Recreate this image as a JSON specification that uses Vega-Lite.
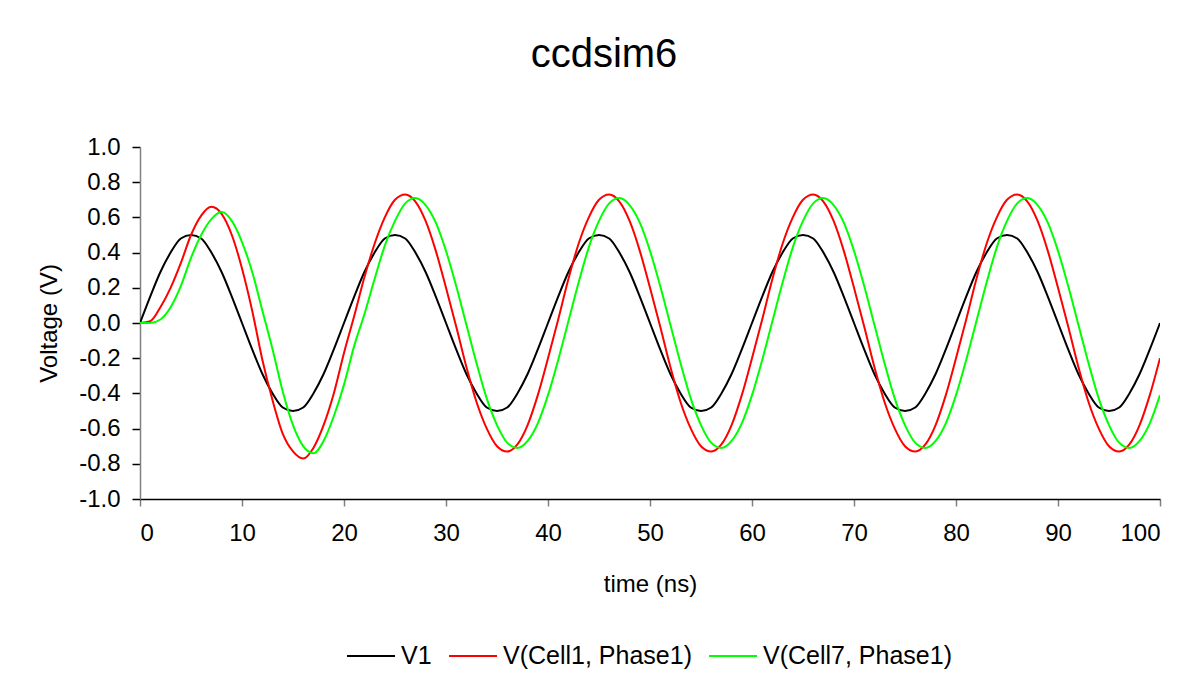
{
"$schema": "https://vega.github.io/schema/vega-lite/v6.json",
"autosize": "none",
"width": 1020,
"height": 352,
"padding": {"left": 140, "top": 147, "right": 43, "bottom": 183},
"background": "#ffffff",
"title": {"text": "ccdsim6", "fontSize": 40, "fontWeight": "normal", "font": "Liberation Sans", "color": "#000000", "anchor": "middle", "dx": -46, "offset": 60},
"data": {"values": [
{"t":0,"s":"V1","v":0},{"t":1,"s":"V1","v":0.15},{"t":2,"s":"V1","v":0.29},{"t":3,"s":"V1","v":0.40},{"t":4,"s":"V1","v":0.48},{"t":5,"s":"V1","v":0.50},{"t":6,"s":"V1","v":0.48},{"t":7,"s":"V1","v":0.40},{"t":8,"s":"V1","v":0.29},{"t":9,"s":"V1","v":0.15},
{"t":10,"s":"V1","v":0},{"t":11,"s":"V1","v":-0.15},{"t":12,"s":"V1","v":-0.29},{"t":13,"s":"V1","v":-0.40},{"t":14,"s":"V1","v":-0.48},{"t":15,"s":"V1","v":-0.50},{"t":16,"s":"V1","v":-0.48},{"t":17,"s":"V1","v":-0.40},{"t":18,"s":"V1","v":-0.29},{"t":19,"s":"V1","v":-0.15},
{"t":20,"s":"V1","v":0},{"t":21,"s":"V1","v":0.15},{"t":22,"s":"V1","v":0.29},{"t":23,"s":"V1","v":0.40},{"t":24,"s":"V1","v":0.48},{"t":25,"s":"V1","v":0.50},{"t":26,"s":"V1","v":0.48},{"t":27,"s":"V1","v":0.40},{"t":28,"s":"V1","v":0.29},{"t":29,"s":"V1","v":0.15},
{"t":30,"s":"V1","v":0},{"t":31,"s":"V1","v":-0.15},{"t":32,"s":"V1","v":-0.29},{"t":33,"s":"V1","v":-0.40},{"t":34,"s":"V1","v":-0.48},{"t":35,"s":"V1","v":-0.50},{"t":36,"s":"V1","v":-0.48},{"t":37,"s":"V1","v":-0.40},{"t":38,"s":"V1","v":-0.29},{"t":39,"s":"V1","v":-0.15},
{"t":40,"s":"V1","v":0},{"t":41,"s":"V1","v":0.15},{"t":42,"s":"V1","v":0.29},{"t":43,"s":"V1","v":0.40},{"t":44,"s":"V1","v":0.48},{"t":45,"s":"V1","v":0.50},{"t":46,"s":"V1","v":0.48},{"t":47,"s":"V1","v":0.40},{"t":48,"s":"V1","v":0.29},{"t":49,"s":"V1","v":0.15},
{"t":50,"s":"V1","v":0},{"t":51,"s":"V1","v":-0.15},{"t":52,"s":"V1","v":-0.29},{"t":53,"s":"V1","v":-0.40},{"t":54,"s":"V1","v":-0.48},{"t":55,"s":"V1","v":-0.50},{"t":56,"s":"V1","v":-0.48},{"t":57,"s":"V1","v":-0.40},{"t":58,"s":"V1","v":-0.29},{"t":59,"s":"V1","v":-0.15},
{"t":60,"s":"V1","v":0},{"t":61,"s":"V1","v":0.15},{"t":62,"s":"V1","v":0.29},{"t":63,"s":"V1","v":0.40},{"t":64,"s":"V1","v":0.48},{"t":65,"s":"V1","v":0.50},{"t":66,"s":"V1","v":0.48},{"t":67,"s":"V1","v":0.40},{"t":68,"s":"V1","v":0.29},{"t":69,"s":"V1","v":0.15},
{"t":70,"s":"V1","v":0},{"t":71,"s":"V1","v":-0.15},{"t":72,"s":"V1","v":-0.29},{"t":73,"s":"V1","v":-0.40},{"t":74,"s":"V1","v":-0.48},{"t":75,"s":"V1","v":-0.50},{"t":76,"s":"V1","v":-0.48},{"t":77,"s":"V1","v":-0.40},{"t":78,"s":"V1","v":-0.29},{"t":79,"s":"V1","v":-0.15},
{"t":80,"s":"V1","v":0},{"t":81,"s":"V1","v":0.15},{"t":82,"s":"V1","v":0.29},{"t":83,"s":"V1","v":0.40},{"t":84,"s":"V1","v":0.48},{"t":85,"s":"V1","v":0.50},{"t":86,"s":"V1","v":0.48},{"t":87,"s":"V1","v":0.40},{"t":88,"s":"V1","v":0.29},{"t":89,"s":"V1","v":0.15},
{"t":90,"s":"V1","v":0},{"t":91,"s":"V1","v":-0.15},{"t":92,"s":"V1","v":-0.29},{"t":93,"s":"V1","v":-0.40},{"t":94,"s":"V1","v":-0.48},{"t":95,"s":"V1","v":-0.50},{"t":96,"s":"V1","v":-0.48},{"t":97,"s":"V1","v":-0.40},{"t":98,"s":"V1","v":-0.29},{"t":99,"s":"V1","v":-0.15},
{"t":100,"s":"V1","v":0},
{"t":0,"s":"V(Cell1, Phase1)","v":0},{"t":1,"s":"V(Cell1, Phase1)","v":0.01},{"t":2,"s":"V(Cell1, Phase1)","v":0.09},{"t":3,"s":"V(Cell1, Phase1)","v":0.20},{"t":4,"s":"V(Cell1, Phase1)","v":0.34},{"t":5,"s":"V(Cell1, Phase1)","v":0.50},{"t":6,"s":"V(Cell1, Phase1)","v":0.61},{"t":7,"s":"V(Cell1, Phase1)","v":0.66},{"t":8,"s":"V(Cell1, Phase1)","v":0.62},{"t":9,"s":"V(Cell1, Phase1)","v":0.50},
{"t":10,"s":"V(Cell1, Phase1)","v":0.31},{"t":11,"s":"V(Cell1, Phase1)","v":0.07},{"t":12,"s":"V(Cell1, Phase1)","v":-0.21},{"t":13,"s":"V(Cell1, Phase1)","v":-0.44},{"t":14,"s":"V(Cell1, Phase1)","v":-0.63},{"t":15,"s":"V(Cell1, Phase1)","v":-0.73},{"t":16,"s":"V(Cell1, Phase1)","v":-0.77},{"t":17,"s":"V(Cell1, Phase1)","v":-0.71},{"t":18,"s":"V(Cell1, Phase1)","v":-0.58},{"t":19,"s":"V(Cell1, Phase1)","v":-0.40},
{"t":20,"s":"V(Cell1, Phase1)","v":-0.17},{"t":21,"s":"V(Cell1, Phase1)","v":0.04},{"t":22,"s":"V(Cell1, Phase1)","v":0.26},{"t":23,"s":"V(Cell1, Phase1)","v":0.45},{"t":24,"s":"V(Cell1, Phase1)","v":0.60},{"t":25,"s":"V(Cell1, Phase1)","v":0.70},{"t":26,"s":"V(Cell1, Phase1)","v":0.73},{"t":27,"s":"V(Cell1, Phase1)","v":0.69},{"t":28,"s":"V(Cell1, Phase1)","v":0.58},{"t":29,"s":"V(Cell1, Phase1)","v":0.41},
{"t":30,"s":"V(Cell1, Phase1)","v":0.20},{"t":31,"s":"V(Cell1, Phase1)","v":-0.02},{"t":32,"s":"V(Cell1, Phase1)","v":-0.25},{"t":33,"s":"V(Cell1, Phase1)","v":-0.45},{"t":34,"s":"V(Cell1, Phase1)","v":-0.60},{"t":35,"s":"V(Cell1, Phase1)","v":-0.70},{"t":36,"s":"V(Cell1, Phase1)","v":-0.73},{"t":37,"s":"V(Cell1, Phase1)","v":-0.69},{"t":38,"s":"V(Cell1, Phase1)","v":-0.58},{"t":39,"s":"V(Cell1, Phase1)","v":-0.41},
{"t":40,"s":"V(Cell1, Phase1)","v":-0.20},{"t":41,"s":"V(Cell1, Phase1)","v":0.02},{"t":42,"s":"V(Cell1, Phase1)","v":0.25},{"t":43,"s":"V(Cell1, Phase1)","v":0.45},{"t":44,"s":"V(Cell1, Phase1)","v":0.60},{"t":45,"s":"V(Cell1, Phase1)","v":0.70},{"t":46,"s":"V(Cell1, Phase1)","v":0.73},{"t":47,"s":"V(Cell1, Phase1)","v":0.69},{"t":48,"s":"V(Cell1, Phase1)","v":0.58},{"t":49,"s":"V(Cell1, Phase1)","v":0.41},
{"t":50,"s":"V(Cell1, Phase1)","v":0.20},{"t":51,"s":"V(Cell1, Phase1)","v":-0.02},{"t":52,"s":"V(Cell1, Phase1)","v":-0.25},{"t":53,"s":"V(Cell1, Phase1)","v":-0.45},{"t":54,"s":"V(Cell1, Phase1)","v":-0.60},{"t":55,"s":"V(Cell1, Phase1)","v":-0.70},{"t":56,"s":"V(Cell1, Phase1)","v":-0.73},{"t":57,"s":"V(Cell1, Phase1)","v":-0.69},{"t":58,"s":"V(Cell1, Phase1)","v":-0.58},{"t":59,"s":"V(Cell1, Phase1)","v":-0.41},
{"t":60,"s":"V(Cell1, Phase1)","v":-0.20},{"t":61,"s":"V(Cell1, Phase1)","v":0.02},{"t":62,"s":"V(Cell1, Phase1)","v":0.25},{"t":63,"s":"V(Cell1, Phase1)","v":0.45},{"t":64,"s":"V(Cell1, Phase1)","v":0.60},{"t":65,"s":"V(Cell1, Phase1)","v":0.70},{"t":66,"s":"V(Cell1, Phase1)","v":0.73},{"t":67,"s":"V(Cell1, Phase1)","v":0.69},{"t":68,"s":"V(Cell1, Phase1)","v":0.58},{"t":69,"s":"V(Cell1, Phase1)","v":0.41},
{"t":70,"s":"V(Cell1, Phase1)","v":0.20},{"t":71,"s":"V(Cell1, Phase1)","v":-0.02},{"t":72,"s":"V(Cell1, Phase1)","v":-0.25},{"t":73,"s":"V(Cell1, Phase1)","v":-0.45},{"t":74,"s":"V(Cell1, Phase1)","v":-0.60},{"t":75,"s":"V(Cell1, Phase1)","v":-0.70},{"t":76,"s":"V(Cell1, Phase1)","v":-0.73},{"t":77,"s":"V(Cell1, Phase1)","v":-0.69},{"t":78,"s":"V(Cell1, Phase1)","v":-0.58},{"t":79,"s":"V(Cell1, Phase1)","v":-0.41},
{"t":80,"s":"V(Cell1, Phase1)","v":-0.20},{"t":81,"s":"V(Cell1, Phase1)","v":0.02},{"t":82,"s":"V(Cell1, Phase1)","v":0.25},{"t":83,"s":"V(Cell1, Phase1)","v":0.45},{"t":84,"s":"V(Cell1, Phase1)","v":0.60},{"t":85,"s":"V(Cell1, Phase1)","v":0.70},{"t":86,"s":"V(Cell1, Phase1)","v":0.73},{"t":87,"s":"V(Cell1, Phase1)","v":0.69},{"t":88,"s":"V(Cell1, Phase1)","v":0.58},{"t":89,"s":"V(Cell1, Phase1)","v":0.41},
{"t":90,"s":"V(Cell1, Phase1)","v":0.20},{"t":91,"s":"V(Cell1, Phase1)","v":-0.02},{"t":92,"s":"V(Cell1, Phase1)","v":-0.25},{"t":93,"s":"V(Cell1, Phase1)","v":-0.45},{"t":94,"s":"V(Cell1, Phase1)","v":-0.60},{"t":95,"s":"V(Cell1, Phase1)","v":-0.70},{"t":96,"s":"V(Cell1, Phase1)","v":-0.73},{"t":97,"s":"V(Cell1, Phase1)","v":-0.69},{"t":98,"s":"V(Cell1, Phase1)","v":-0.58},{"t":99,"s":"V(Cell1, Phase1)","v":-0.41},
{"t":100,"s":"V(Cell1, Phase1)","v":-0.20},
{"t":0,"s":"V(Cell7, Phase1)","v":0},{"t":1,"s":"V(Cell7, Phase1)","v":0.00},{"t":2,"s":"V(Cell7, Phase1)","v":0.02},{"t":3,"s":"V(Cell7, Phase1)","v":0.09},{"t":4,"s":"V(Cell7, Phase1)","v":0.21},{"t":5,"s":"V(Cell7, Phase1)","v":0.37},{"t":6,"s":"V(Cell7, Phase1)","v":0.50},{"t":7,"s":"V(Cell7, Phase1)","v":0.59},{"t":8,"s":"V(Cell7, Phase1)","v":0.63},{"t":9,"s":"V(Cell7, Phase1)","v":0.58},
{"t":10,"s":"V(Cell7, Phase1)","v":0.46},{"t":11,"s":"V(Cell7, Phase1)","v":0.29},{"t":12,"s":"V(Cell7, Phase1)","v":0.07},{"t":13,"s":"V(Cell7, Phase1)","v":-0.15},{"t":14,"s":"V(Cell7, Phase1)","v":-0.39},{"t":15,"s":"V(Cell7, Phase1)","v":-0.58},{"t":16,"s":"V(Cell7, Phase1)","v":-0.70},{"t":17,"s":"V(Cell7, Phase1)","v":-0.74},{"t":18,"s":"V(Cell7, Phase1)","v":-0.67},{"t":19,"s":"V(Cell7, Phase1)","v":-0.53},
{"t":20,"s":"V(Cell7, Phase1)","v":-0.35},{"t":21,"s":"V(Cell7, Phase1)","v":-0.13},{"t":22,"s":"V(Cell7, Phase1)","v":0.05},{"t":23,"s":"V(Cell7, Phase1)","v":0.25},{"t":24,"s":"V(Cell7, Phase1)","v":0.44},{"t":25,"s":"V(Cell7, Phase1)","v":0.58},{"t":26,"s":"V(Cell7, Phase1)","v":0.68},{"t":27,"s":"V(Cell7, Phase1)","v":0.71},{"t":28,"s":"V(Cell7, Phase1)","v":0.67},{"t":29,"s":"V(Cell7, Phase1)","v":0.57},
{"t":30,"s":"V(Cell7, Phase1)","v":0.41},{"t":31,"s":"V(Cell7, Phase1)","v":0.21},{"t":32,"s":"V(Cell7, Phase1)","v":-0.01},{"t":33,"s":"V(Cell7, Phase1)","v":-0.23},{"t":34,"s":"V(Cell7, Phase1)","v":-0.43},{"t":35,"s":"V(Cell7, Phase1)","v":-0.58},{"t":36,"s":"V(Cell7, Phase1)","v":-0.68},{"t":37,"s":"V(Cell7, Phase1)","v":-0.71},{"t":38,"s":"V(Cell7, Phase1)","v":-0.67},{"t":39,"s":"V(Cell7, Phase1)","v":-0.57},
{"t":40,"s":"V(Cell7, Phase1)","v":-0.41},{"t":41,"s":"V(Cell7, Phase1)","v":-0.21},{"t":42,"s":"V(Cell7, Phase1)","v":0.01},{"t":43,"s":"V(Cell7, Phase1)","v":0.23},{"t":44,"s":"V(Cell7, Phase1)","v":0.43},{"t":45,"s":"V(Cell7, Phase1)","v":0.58},{"t":46,"s":"V(Cell7, Phase1)","v":0.68},{"t":47,"s":"V(Cell7, Phase1)","v":0.71},{"t":48,"s":"V(Cell7, Phase1)","v":0.67},{"t":49,"s":"V(Cell7, Phase1)","v":0.57},
{"t":50,"s":"V(Cell7, Phase1)","v":0.41},{"t":51,"s":"V(Cell7, Phase1)","v":0.21},{"t":52,"s":"V(Cell7, Phase1)","v":-0.01},{"t":53,"s":"V(Cell7, Phase1)","v":-0.23},{"t":54,"s":"V(Cell7, Phase1)","v":-0.43},{"t":55,"s":"V(Cell7, Phase1)","v":-0.58},{"t":56,"s":"V(Cell7, Phase1)","v":-0.68},{"t":57,"s":"V(Cell7, Phase1)","v":-0.71},{"t":58,"s":"V(Cell7, Phase1)","v":-0.67},{"t":59,"s":"V(Cell7, Phase1)","v":-0.57},
{"t":60,"s":"V(Cell7, Phase1)","v":-0.41},{"t":61,"s":"V(Cell7, Phase1)","v":-0.21},{"t":62,"s":"V(Cell7, Phase1)","v":0.01},{"t":63,"s":"V(Cell7, Phase1)","v":0.23},{"t":64,"s":"V(Cell7, Phase1)","v":0.43},{"t":65,"s":"V(Cell7, Phase1)","v":0.58},{"t":66,"s":"V(Cell7, Phase1)","v":0.68},{"t":67,"s":"V(Cell7, Phase1)","v":0.71},{"t":68,"s":"V(Cell7, Phase1)","v":0.67},{"t":69,"s":"V(Cell7, Phase1)","v":0.57},
{"t":70,"s":"V(Cell7, Phase1)","v":0.41},{"t":71,"s":"V(Cell7, Phase1)","v":0.21},{"t":72,"s":"V(Cell7, Phase1)","v":-0.01},{"t":73,"s":"V(Cell7, Phase1)","v":-0.23},{"t":74,"s":"V(Cell7, Phase1)","v":-0.43},{"t":75,"s":"V(Cell7, Phase1)","v":-0.58},{"t":76,"s":"V(Cell7, Phase1)","v":-0.68},{"t":77,"s":"V(Cell7, Phase1)","v":-0.71},{"t":78,"s":"V(Cell7, Phase1)","v":-0.67},{"t":79,"s":"V(Cell7, Phase1)","v":-0.57},
{"t":80,"s":"V(Cell7, Phase1)","v":-0.41},{"t":81,"s":"V(Cell7, Phase1)","v":-0.21},{"t":82,"s":"V(Cell7, Phase1)","v":0.01},{"t":83,"s":"V(Cell7, Phase1)","v":0.23},{"t":84,"s":"V(Cell7, Phase1)","v":0.43},{"t":85,"s":"V(Cell7, Phase1)","v":0.58},{"t":86,"s":"V(Cell7, Phase1)","v":0.68},{"t":87,"s":"V(Cell7, Phase1)","v":0.71},{"t":88,"s":"V(Cell7, Phase1)","v":0.67},{"t":89,"s":"V(Cell7, Phase1)","v":0.57},
{"t":90,"s":"V(Cell7, Phase1)","v":0.41},{"t":91,"s":"V(Cell7, Phase1)","v":0.21},{"t":92,"s":"V(Cell7, Phase1)","v":-0.01},{"t":93,"s":"V(Cell7, Phase1)","v":-0.23},{"t":94,"s":"V(Cell7, Phase1)","v":-0.43},{"t":95,"s":"V(Cell7, Phase1)","v":-0.58},{"t":96,"s":"V(Cell7, Phase1)","v":-0.68},{"t":97,"s":"V(Cell7, Phase1)","v":-0.71},{"t":98,"s":"V(Cell7, Phase1)","v":-0.67},{"t":99,"s":"V(Cell7, Phase1)","v":-0.57},
{"t":100,"s":"V(Cell7, Phase1)","v":-0.41}
]},
"mark": {"type": "line", "strokeWidth": 2, "interpolate": "monotone", "clip": true},
"encoding": {
"x": {"field": "t", "type": "quantitative",
 "scale": {"domain": [0, 100], "nice": false, "zero": false},
 "axis": {"title": "time (ns)", "values": [0,10,20,30,40,50,60,70,80,90,100], "format": "d",
  "tickSize": 7, "labelPadding": 15, "titlePadding": 27, "domainColor": "#000000", "tickColor": "#808080"}},
"y": {"field": "v", "type": "quantitative",
 "scale": {"domain": [-1, 1], "nice": false, "zero": false},
 "axis": {"title": "Voltage (V)", "values": [-1,-0.8,-0.6,-0.4,-0.2,0,0.2,0.4,0.6,0.8,1],
  "labelExpr": "(datum.value < -0.000001 ? '-' : '') + format(abs(datum.value), '.1f')",
  "tickSize": 8, "labelPadding": 12, "titlePadding": 17, "domainColor": "#808080", "tickColor": "#000000"}},
"color": {"field": "s", "type": "nominal",
 "scale": {"domain": ["V1", "V(Cell1, Phase1)", "V(Cell7, Phase1)"], "range": ["#000000", "#FF0000", "#00FF00"]},
 "legend": {"title": null, "orient": "none", "direction": "horizontal", "legendX": 206, "legendY": 484,
  "symbolType": "stroke", "symbolSize": 2304, "symbolStrokeWidth": 2, "labelFontSize": 25, "labelLimit": 0, "labelOffset": 5, "columnPadding": 13, "padding": 0, "labelColor": "#000000", "labelFont": "Liberation Sans"}}
},
"config": {
 "font": "Liberation Sans",
 "view": {"stroke": null},
 "axis": {"grid": false, "labelFont": "Liberation Sans", "labelFontSize": 24, "labelColor": "#000000", "titleFont": "Liberation Sans", "titleFontSize": 24, "titleFontWeight": "normal", "titleColor": "#000000", "domainWidth": 1.5, "tickWidth": 1.5}
}
}
